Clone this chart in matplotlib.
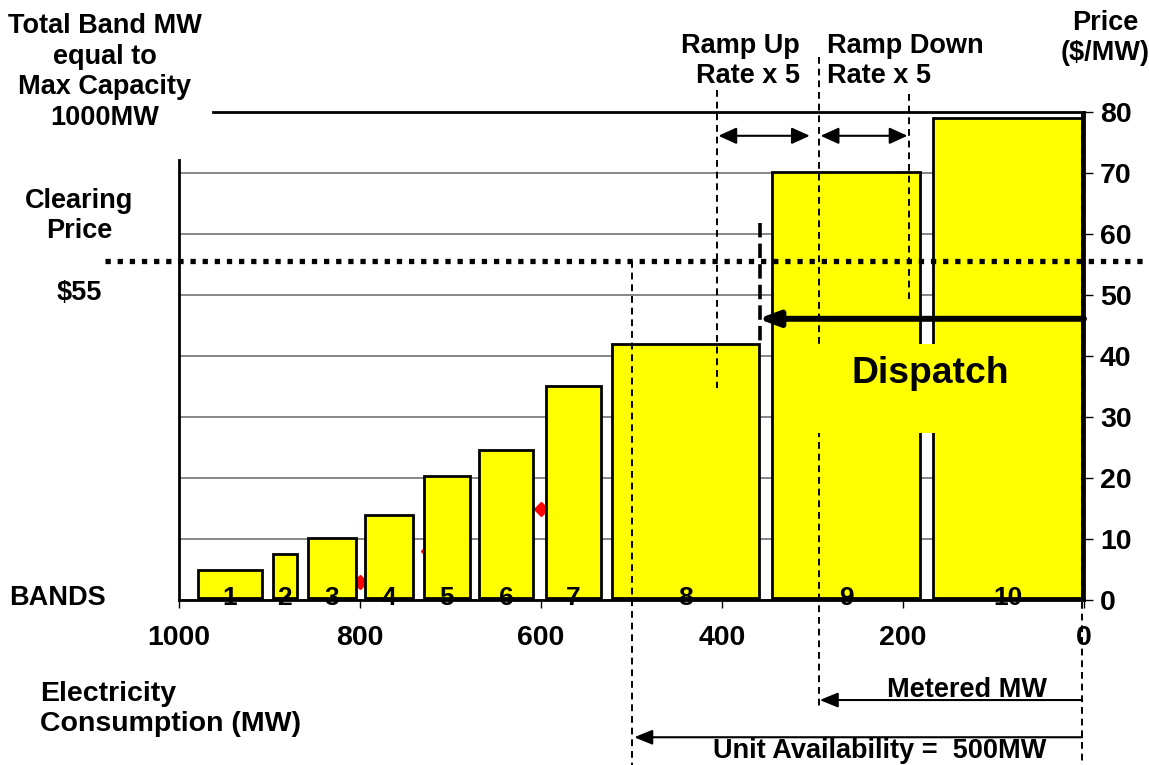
import matplotlib
matplotlib.use("Agg")
import matplotlib.pyplot as plt
import matplotlib.transforms as mtransforms
from matplotlib.patches import Rectangle

plt.rcParams["font.family"] = ["Liberation Sans", "DejaVu Sans"]
plt.rcParams["font.weight"] = "bold"

# offer bands (MW ranges are read on the reversed consumption axis)
band_labels = ["1", "2", "3", "4", "5", "6", "7", "8", "9", "10"]
band_start_mw = [979, 896, 858, 794, 729, 668, 595, 521, 345, 167]
band_end_mw = [908, 870, 804, 741, 679, 609, 534, 359, 181, 2]
band_price = [5.0, 7.5, 10.2, 14.0, 20.3, 24.6, 35.1, 42.0, 70.2, 79.0]
band_floor = 0.4

# red offer points partly hidden behind the bands
point_mw = [800, 725, 600]
point_price = [3.0, 8.0, 15.0]

clearing_price = 55.5
max_capacity_price = 80
dispatch_mw = 358
metered_mw = 293
ramp_up_mw = 406
ramp_down_mw = 193
availability_mw = 500
zero_mw = 2

x_ticks = [1000, 800, 600, 400, 200, 0]
y_ticks = [0, 10, 20, 30, 40, 50, 60, 70, 80]

W, H = 1149, 765
LS = 1.23


def px(x, y):
    return x / W, 1 - y / H


fig = plt.figure(figsize=(W / 100, H / 100), dpi=100)
ax = fig.add_axes([179 / W, 165 / H, 905 / W, 488 / H])
ax.set_xlim(1000, 0)
ax.set_ylim(0, 80)

ax.spines["top"].set_visible(False)
ax.spines["left"].set_bounds(0, 72.2)
for side in ["left", "right", "bottom"]:
    ax.spines[side].set_linewidth(2)
ax.yaxis.tick_right()
ax.set_xticks(x_ticks)
ax.set_yticks(y_ticks)
ax.tick_params(axis="x", direction="out", length=6, width=1, pad=12,
               labelsize=20.5)
ax.tick_params(axis="y", direction="out", length=6.5, width=1, pad=5,
               labelsize=20.5)
ax.yaxis.grid(True, color="#666666", linewidth=1.1)
ax.set_axisbelow(True)
ax.get_ygridlines()[-1].set_visible(False)

# max capacity line
ax.plot([962, 0], [max_capacity_price, max_capacity_price], color="black",
        lw=2, clip_on=False, zorder=3)

ax.plot(point_mw, point_price, "D", color="red", markersize=7, zorder=1.5)

widths = [s - e for s, e in zip(band_start_mw, band_end_mw)]
heights = [p - band_floor for p in band_price]
ax.bar(band_end_mw, heights, width=widths, bottom=band_floor, align="edge",
       color="#FFFF00", edgecolor="black", linewidth=2, zorder=2)

for lab, s, e in zip(band_labels, band_start_mw, band_end_mw):
    ax.text((s + e) / 2, 0.4, lab, ha="center", va="center", fontsize=19,
            fontweight="bold", zorder=5)

dash = dict(color="black", lw=1.4, linestyle=(0, (3.5, 2.5)), clip_on=False,
            zorder=2.5)
ax.plot([availability_mw, availability_mw], [clearing_price, -27], **dash)
ax.plot([ramp_up_mw, ramp_up_mw], [83.6, 34.8], **dash)
ax.plot([metered_mw, metered_mw], [89, -17.5], **dash)
ax.plot([ramp_down_mw, ramp_down_mw], [83, 49.3], **dash)
ax.plot([zero_mw, zero_mw], [80, -27], **dash)

ax.plot([dispatch_mw, dispatch_mw], [61.8, 42], color="black", lw=2.6,
        linestyle=(0, (4, 1.7)), zorder=3)

# clearing price dotted line across the whole figure
blend = mtransforms.blended_transform_factory(fig.transFigure, ax.transData)
ax.plot([105 / W, 1.0], [clearing_price, clearing_price], color="black",
        lw=3.8, linestyle=(0, (1, 1.3)), transform=blend, clip_on=False,
        zorder=4)

# dispatch label box
ax.add_patch(Rectangle((318, 27.3), -300, 14.7, facecolor="#FFFF00",
                       edgecolor="none", zorder=3))
ax.text(170, 37.2, "Dispatch", ha="center", va="center", fontsize=26.8,
        fontweight="bold", zorder=5)

ax.annotate("", xy=(dispatch_mw + 2, 46.1), xytext=(zero_mw - 2, 46.1),
            arrowprops=dict(arrowstyle="-|>,head_length=0.8,head_width=0.3",
                            mutation_scale=15, color="black", lw=4.3,
                            shrinkA=0, shrinkB=0), zorder=5)

ramp_arrow = dict(arrowstyle="<|-|>,head_length=1.1,head_width=0.5",
                  color="black", lw=1.5, shrinkA=0, shrinkB=0)
ax.annotate("", xy=(ramp_up_mw - 2, 76.1), xytext=(metered_mw + 10, 76.1),
            arrowprops=ramp_arrow, annotation_clip=False)
ax.annotate("", xy=(metered_mw - 2, 76.1), xytext=(ramp_down_mw + 2, 76.1),
            arrowprops=ramp_arrow, annotation_clip=False)

low_arrow = dict(arrowstyle="-|>,head_length=1.1,head_width=0.45",
                 color="black", lw=1.5, shrinkA=0, shrinkB=0)
ax.annotate("", xy=(metered_mw - 1, -16.4), xytext=(zero_mw, -16.4),
            arrowprops=low_arrow, annotation_clip=False)
ax.annotate("", xy=(availability_mw - 3, -22.5), xytext=(zero_mw, -22.5),
            arrowprops=low_arrow, annotation_clip=False)

txt = dict(fontsize=19.5, fontweight="bold", color="black")
fig.text(*px(105, 72), "Total Band MW\nequal to\nMax Capacity\n1000MW",
         ha="center", va="center", linespacing=LS, **txt)
fig.text(*px(79, 216), "Clearing\nPrice", ha="center", va="center",
         linespacing=LS, **txt)
fig.text(*px(79, 293), "$55", ha="center", va="center", **txt)
fig.text(*px(57, 598), "BANDS", ha="center", va="center", **txt)
fig.text(*px(40, 709), "Electricity\nConsumption (MW)", ha="left",
         va="center", linespacing=LS, fontsize=20.5, fontweight="bold")
fig.text(*px(1105, 38), "Price\n($/MW)", ha="center", va="center",
         linespacing=LS, **txt)
fig.text(*px(800, 61), "Ramp Up\nRate x 5", ha="right", va="center",
         linespacing=LS, multialignment="right", **txt)
fig.text(*px(827, 61), "Ramp Down\nRate x 5", ha="left", va="center",
         linespacing=LS, **txt)
fig.text(*px(1047, 690), "Metered MW", ha="right", va="center", **txt)
fig.text(*px(880, 751), "Unit Availability =  500MW", ha="center",
         va="center", **txt)

fig.savefig("out.png", dpi=100)
